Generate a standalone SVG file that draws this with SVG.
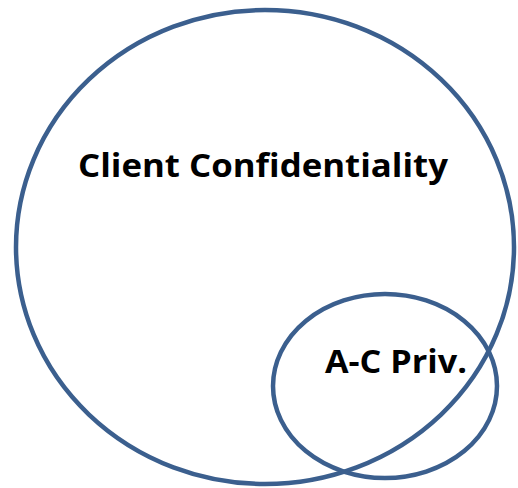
<svg xmlns="http://www.w3.org/2000/svg" width="518" height="488" viewBox="0 0 518 488">
<style>
.ring{fill:none;stroke:#3b5f8e;stroke-width:4.5}
.lbl{font-family:"Open Sans","Noto Sans","Liberation Sans",sans-serif;font-weight:bold;font-size:33px;fill:#000}
</style>
<rect width="518" height="488" fill="#fff"/>
<g id="client-confidentiality">
<ellipse class="ring" cx="265" cy="247" rx="249" ry="237"/>
<text class="lbl" x="78" y="177" textLength="370" lengthAdjust="spacingAndGlyphs">Client Confidentiality</text>
</g>
<g id="ac-priv">
<ellipse class="ring" cx="385" cy="386" rx="112" ry="92"/>
<text class="lbl" x="325" y="373" textLength="142" lengthAdjust="spacingAndGlyphs">A-C Priv.</text>
</g>
<g id="connectors"/>
</svg>
